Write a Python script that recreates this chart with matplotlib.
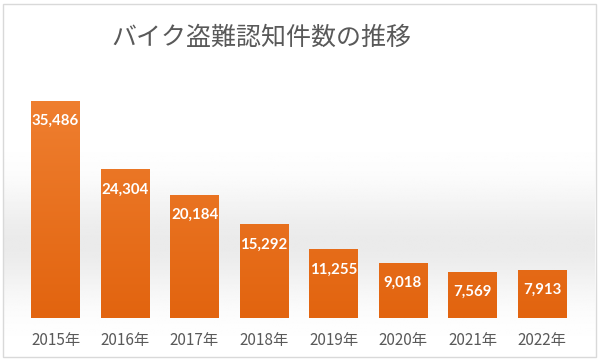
import numpy as np
import matplotlib.pyplot as plt
from matplotlib.patches import Rectangle
from matplotlib.colors import LinearSegmentedColormap

plt.rcParams['font.family'] = ['Noto Sans CJK JP', 'DejaVu Sans']

# Data
years = ['2015年', '2016年', '2017年', '2018年', '2019年', '2020年', '2021年', '2022年']
counts = [35486, 24304, 20184, 15292, 11255, 9018, 7569, 7913]

fig = plt.figure(figsize=(6, 3.6), dpi=100)
fig.patch.set_facecolor('white')

# chart frame
fig.patches.append(Rectangle((3 / 600, 3 / 360), 593 / 600, 353 / 360,
                             transform=fig.transFigure, fill=False,
                             edgecolor='#d9d9d9', linewidth=1.0))

# soft grey band behind the bars
bg = fig.add_axes([4 / 600, 4 / 360, 591 / 600, 351 / 360], zorder=0)
yy = np.linspace(0, 1, 300)
shade = 1 - 0.08 * np.exp(-((yy - 0.32) / 0.15) ** 2)
bg.imshow(np.tile(shade[:, None], (1, 10)), cmap='gray', vmin=0, vmax=1,
          aspect='auto', extent=[0, 1, 0, 1], origin='lower')
bg.axis('off')

ax = fig.add_axes([20.75 / 600, 42 / 360, 556 / 600, 244.6 / 360], zorder=1)
ax.patch.set_alpha(0)
x = np.arange(len(years))
bars = ax.bar(x, counts, width=0.705, color='#eb7628', zorder=2)

# vertical orange gradient inside each bar
cmap = LinearSegmentedColormap.from_list('org', ['#e2640f', '#ef7f30'])
grad = np.linspace(0, 1, 256)[:, None]
for b in bars:
    im = ax.imshow(grad, cmap=cmap, aspect='auto', origin='lower',
                   extent=[b.get_x(), b.get_x() + b.get_width(), 0, 36000],
                   zorder=2.5)
    im.set_clip_path(b)

for xi, v in zip(x, counts):
    ax.text(xi, v - 3300, f'{v:,}', ha='center', va='center', color='white',
            fontsize=10.8, fontweight='bold', family=['Lato', 'DejaVu Sans'], zorder=3)

ax.set_xlim(-0.5, len(years) - 0.5)
ax.set_ylim(0, 40000)
ax.set_xticks(x)
ax.set_xticklabels(years, fontsize=11, color='#595959')
ax.tick_params(axis='x', length=0, pad=10)
ax.set_yticks([])
for s in ax.spines.values():
    s.set_visible(False)

fig.text(261 / 600, 1 - 38 / 360, 'バイク盗難認知件数の推移', ha='center', va='center',
         fontsize=18, color='#595959')

fig.savefig('out.png', dpi=100)
